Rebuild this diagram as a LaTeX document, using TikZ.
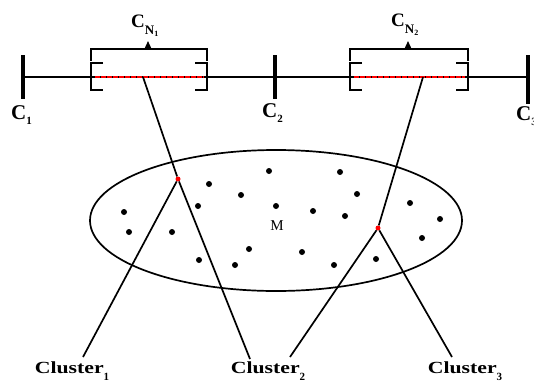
\documentclass[tikz,border=0pt]{standalone}
\usepackage{fontspec}
\setmainfont{Liberation Serif}
\usetikzlibrary{positioning, arrows.meta}

\newcommand{\lowsub}[2][-0.45ex]{\raisebox{#1}{\fontsize{11}{11}\selectfont #2}}

\begin{document}
\begin{tikzpicture}[x=1pt, y=-1pt,
    tick/.style={line width=3.4pt},
    axis/.style={line width=2.2pt},
    brk/.style={line width=2.8pt},
    brace/.style={line width=1.4pt},
    link/.style={line width=1.7pt},
    hit/.style={circle, fill=red, inner sep=0pt, minimum size=5pt},
    clab/.style={font=\fontsize{21}{21}\selectfont\bfseries, inner sep=0pt, anchor=north west},
    cnlab/.style={font=\fontsize{19}{19}\selectfont\bfseries, inner sep=0pt, anchor=north west},
    clus/.style={font=\fontsize{17}{17}\selectfont\bfseries, inner sep=0pt, anchor=north},
    mlab/.style={font=\fontsize{15}{15}\selectfont, inner sep=0pt}
]
\useasboundingbox (0,0) rectangle (534,383);

% time axis with the three ticks
\coordinate (t1) at (23,77);
\coordinate (t2) at (275,77);
\coordinate (t3) at (528,77);
\draw[axis] (t1) -- (t3);
\draw[tick] (23,55) -- (23,99);
\draw[tick] (275,55) -- (275,99);
\draw[tick] (528,55) -- (528,104);
\node[clab] (c1) at (11,105) {C\lowsub[-0.6ex]{1}};
\node[clab] (c2) at (262,103) {C\lowsub[-0.6ex]{2}};
\node[clab] (c3) at (516,106) {C\lowsub[-0.6ex]{3}};

% the two selected windows
\foreach \l/\r/\n in {91/207/1, 350/468/2} {
  \draw[brk] (\l+12,63) -- (\l,63) -- (\l,90) -- (\l+12,90);
  \draw[brk] (\r-12,63) -- (\r,63) -- (\r,90) -- (\r-12,90);
  \draw[red, line width=2.4pt, dash pattern=on 5pt off 1pt] (\l+4,77) -- (\r-3,77);
  \draw[brace] (\l,61) -- (\l,49) -- (\r,49) -- (\r,61);
  \coordinate (top\n) at ({(\l+\r)/2-1},49);
  \draw[brace, -{Triangle[width=6pt,length=7pt]}] (top\n) -- ++(0,-8);
}
\node[cnlab] (cn1) at (131,15) {C\raisebox{-0.75ex}{\fontsize{13}{13}\selectfont N\lowsub[-0.3ex]{\fontsize{8}{8}\selectfont 1}}};
\node[cnlab] (cn2) at (391,14) {C\raisebox{-0.75ex}{\fontsize{13}{13}\selectfont N\lowsub[-0.3ex]{\fontsize{8}{8}\selectfont 2}}};

% data set
\draw[link] (276,220.5) ellipse [x radius=186pt, y radius=70.5pt];
\node[mlab] (m) at (277,226) {M};
\foreach \x/\y in {269/171, 340/172, 209/184, 241/195, 357/194, 198/206, 276/206,
    313/211, 345/216, 410/203, 440/219, 124/212, 129/232, 172/232, 422/238,
    249/249, 302/252, 199/260, 235/265, 334/265, 376/259}
  \fill (\x,\y) circle (3pt);

% mapped points and clusters
\coordinate (w1) at (143,77);
\coordinate (w2) at (423,77);
\node[hit] (h1) at (178,179) {};
\node[hit] (h2) at (378,228) {};
\node[clus] (cl1) at (72,361) {\scalebox{1.28}[1]{Cluster}\lowsub[-0.9ex]{1}};
\node[clus] (cl2) at (268,361) {\scalebox{1.28}[1]{Cluster}\lowsub[-0.9ex]{2}};
\node[clus] (cl3) at (465,361) {\scalebox{1.28}[1]{Cluster}\lowsub[-0.9ex]{3}};

\draw[link] (w1) -- (h1);
\draw[link] (h1) -- ([xshift=11pt, yshift=4pt]cl1.north);
\draw[link] (h1) -- ([xshift=-18pt, yshift=2pt]cl2.north);
\draw[link] (w2) -- (h2);
\draw[link] (h2) -- ([xshift=22pt, yshift=4pt]cl2.north);
\draw[link] (h2) -- ([xshift=-13pt, yshift=4pt]cl3.north);

\end{tikzpicture}
\end{document}
